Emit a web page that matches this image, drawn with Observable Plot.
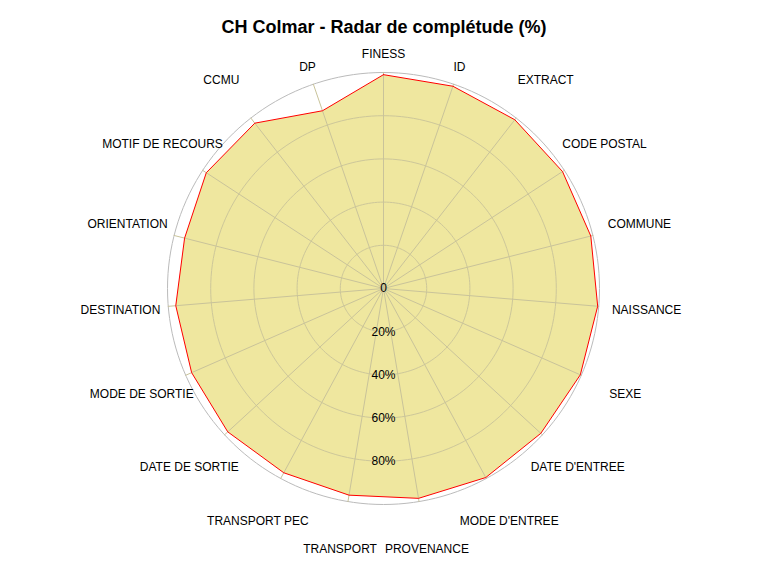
<!DOCTYPE html>
<html><head><meta charset="utf-8">
<script src="https://cdn.jsdelivr.net/npm/d3@7"></script>
<script src="https://cdn.jsdelivr.net/npm/@observablehq/plot@0.6"></script>
<style>
  body { margin: 0; background: #fff; font-family: "Liberation Sans", Arial, sans-serif; }
  #wrap { position: relative; width: 768px; height: 576px; }
  #title { position: absolute; top: 17px; left: 0; width: 768px; text-align: center;
           font-weight: bold; font-size: 18px; color: #000; }
</style></head>
<body>
<div id="wrap"><div id="title">CH Colmar - Radar de complétude (%)</div></div>
<script>
const variables = ["FINESS", "ID", "EXTRACT", "CODE POSTAL", "COMMUNE", "NAISSANCE", "SEXE",
  "DATE D'ENTREE", "MODE D'ENTREE", "PROVENANCE", "TRANSPORT", "TRANSPORT PEC",
  "DATE DE SORTIE", "MODE DE SORTIE", "DESTINATION", "ORIENTATION",
  "MOTIF DE RECOURS", "CCMU", "DP"];
const completude = [99, 99, 99, 99, 99, 99.5, 99.5, 99, 99.5, 98.5, 97, 97, 98, 97, 96.5, 95, 98, 97, 87];
const gridLevels = [20, 40, 60, 80];
const gridLabels = ["20%", "40%", "60%", "80%"];

// pixels per percent; center of the radar in the 768x576 frame
const k = 2.16, cx = 383, cy = 288;
const n = variables.length;
const ang = i => i * 2 * Math.PI / n;
const pt = (r, a) => ({ x: r * Math.sin(a), y: r * Math.cos(a) });

const circle = r => d3.range(0, 361, 2).map(t => pt(r, t * Math.PI / 180));
const spokes = variables.flatMap((v, i) => [
  { ...pt(0, ang(i)), v }, { ...pt(100, ang(i)), v }]);
const poly = completude.map((c, i) => pt(c, ang(i)));
poly.push(poly[0]);

const labels = variables.map((v, i) => {
  const a = ang(i);
  const rp = Math.cos(a) > 0.9 ? 234 : 264; // top labels sit closer
  return { ...pt(rp / k, a), v };
});
const ringLabels = [{ x: 0, y: 0, t: "0" }].concat(
  gridLevels.map((g, i) => ({ x: 0, y: -g, t: gridLabels[i] })));

const svg = Plot.plot({
  width: 768, height: 576,
  margin: 0,
  x: { domain: [-cx / k, (768 - cx) / k], axis: null },
  y: { domain: [-(576 - cy) / k, cy / k], axis: null },
  style: { fontFamily: "'Liberation Sans', Arial, sans-serif", fontSize: 12, background: "transparent" },
  marks: [
    Plot.line(poly, { x: "x", y: "y", fill: "#efe79f", stroke: "none" }),
    ...gridLevels.map(g => Plot.line(circle(g), { x: "x", y: "y", stroke: "#cdc79a", strokeWidth: 1 })),
    Plot.line(circle(100), { x: "x", y: "y", stroke: "#bbbbbb", strokeWidth: 1 }),
    Plot.line(spokes, { x: "x", y: "y", z: "v", stroke: "#c9c39a", strokeWidth: 1 }),
    Plot.line(poly, { x: "x", y: "y", stroke: "#ff0000", strokeWidth: 1 }),
    Plot.text(ringLabels, { x: "x", y: "y", text: "t", fill: "#000", fontSize: 12 }),
    Plot.text(labels, { x: "x", y: "y", text: "v", fill: "#000", fontSize: 12 })
  ]
});
document.getElementById("wrap").prepend(svg);
</script>
</body></html>
